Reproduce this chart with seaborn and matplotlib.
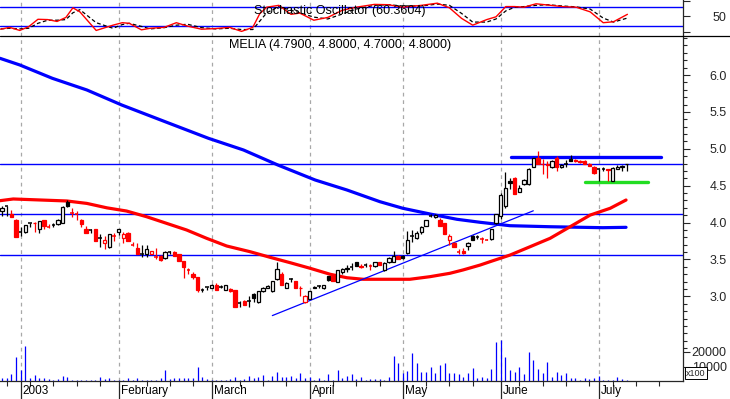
import matplotlib
matplotlib.use("Agg")
import matplotlib.pyplot as plt
import matplotlib.transforms as mtransforms
from matplotlib.patches import Rectangle
from matplotlib.lines import Line2D
import numpy as np
import pandas as pd
import seaborn as sns

sns.set_style("white")
plt.rcParams['font.family'] = ['Liberation Sans', 'DejaVu Sans']

# ---------------- data ----------------
first_index = -4
opens = [4.16, 4.22, 4.12, 4.04, 3.87, 3.87, 4.00, 4.00, 3.92, 4.03,
         3.94, 3.97, 3.98, 4.00, 4.28, 4.13, 4.11, 4.03, 3.92, 3.90,
         3.91, 3.79, 3.73, 3.67, 3.82, 3.87, 3.79, 3.86, 3.70, 3.66,
         3.57, 3.57, 3.58, 3.53, 3.55, 3.52, 3.60, 3.60, 3.57, 3.48,
         3.36, 3.31, 3.26, 3.08, 3.13, 3.12, 3.16, 3.13, 3.09, 3.10,
         3.09, 2.91, 2.94, 2.94, 3.03, 2.92, 3.07, 3.12, 3.07, 3.24,
         3.31, 3.12, 3.23, 3.21, 3.12, 2.93, 2.96, 3.12, 3.14, 3.11,
         3.27, 3.27, 3.20, 3.33, 3.37, 3.40, 3.46, 3.41, 3.42, 3.41,
         3.41, 3.46, 3.36, 3.46, 3.47, 3.55, 3.55, 3.59, 3.82, 3.79,
         3.87, 3.96, 4.09, 4.08, 4.04, 3.99, 3.77, 3.73, 3.60, 3.61,
         3.68, 3.82, 3.81, 3.78, 3.77, 3.78, 3.99, 4.09, 4.22, 4.57,
         4.60, 4.42, 4.52, 4.52, 4.76, 4.87, 4.80, 4.80, 4.76, 4.87,
         4.75, 4.79, 4.86, 4.85, 4.83, 4.84, 4.80, 4.76, 4.72, 4.73,
         4.72, 4.57, 4.73, 4.76, 4.79]
highs = [4.22, 4.22, 4.17, 4.05, 3.94, 3.97, 4.00, 4.01, 4.02, 4.03,
         3.98, 4.00, 4.05, 4.22, 4.30, 4.20, 4.16, 4.05, 3.96, 3.92,
         3.91, 3.84, 3.82, 3.85, 3.86, 3.92, 3.87, 3.87, 3.74, 3.73,
         3.69, 3.69, 3.62, 3.66, 3.56, 3.61, 3.61, 3.61, 3.57, 3.48,
         3.39, 3.33, 3.26, 3.12, 3.13, 3.17, 3.18, 3.15, 3.16, 3.11,
         3.09, 2.94, 2.95, 3.00, 3.05, 3.07, 3.13, 3.15, 3.21, 3.46,
         3.33, 3.19, 3.25, 3.21, 3.14, 3.02, 3.07, 3.14, 3.15, 3.16,
         3.28, 3.28, 3.36, 3.38, 3.42, 3.45, 3.47, 3.44, 3.45, 3.44,
         3.47, 3.47, 3.46, 3.53, 3.62, 3.56, 3.56, 3.88, 3.90, 3.88,
         3.95, 4.04, 4.11, 4.12, 4.06, 3.99, 3.84, 3.74, 3.64, 3.66,
         3.74, 3.83, 3.83, 3.81, 3.78, 3.92, 4.12, 4.40, 4.69, 4.60,
         4.62, 4.51, 4.59, 4.74, 4.88, 4.97, 4.86, 4.84, 4.85, 4.90,
         4.80, 4.85, 4.92, 4.86, 4.85, 4.85, 4.81, 4.77, 4.73, 4.75,
         4.73, 4.75, 4.78, 4.78, 4.80]
lows = [4.09, 4.09, 4.07, 3.81, 3.82, 3.86, 3.94, 3.87, 3.86, 3.91,
        3.93, 3.94, 3.97, 3.99, 4.21, 4.07, 4.03, 3.94, 3.86, 3.86,
        3.75, 3.67, 3.64, 3.66, 3.75, 3.83, 3.72, 3.75, 3.68, 3.57,
        3.54, 3.54, 3.58, 3.51, 3.48, 3.51, 3.58, 3.55, 3.48, 3.25,
        3.31, 3.24, 3.06, 3.06, 3.09, 3.11, 3.09, 3.11, 3.09, 3.06,
        2.86, 2.86, 2.89, 2.85, 2.93, 2.91, 3.06, 3.11, 3.06, 3.22,
        3.15, 3.11, 3.20, 3.12, 3.01, 2.91, 2.96, 3.11, 3.12, 3.10,
        3.21, 3.21, 3.19, 3.31, 3.33, 3.36, 3.41, 3.39, 3.40, 3.36,
        3.40, 3.43, 3.34, 3.45, 3.46, 3.51, 3.50, 3.58, 3.74, 3.78,
        3.85, 3.95, 4.07, 4.06, 3.96, 3.85, 3.70, 3.67, 3.57, 3.57,
        3.63, 3.76, 3.78, 3.72, 3.76, 3.77, 3.98, 4.05, 4.20, 4.45,
        4.39, 4.41, 4.51, 4.51, 4.75, 4.79, 4.66, 4.61, 4.74, 4.70,
        4.74, 4.76, 4.83, 4.82, 4.81, 4.80, 4.77, 4.66, 4.57, 4.70,
        4.57, 4.56, 4.72, 4.70, 4.70]
closes = [4.20, 4.22, 4.07, 3.81, 3.87, 3.97, 4.00, 3.99, 4.02, 3.95,
          3.94, 3.97, 4.03, 4.21, 4.22, 4.13, 4.11, 3.98, 3.86, 3.90,
          3.75, 3.79, 3.77, 3.85, 3.82, 3.91, 3.84, 3.75, 3.70, 3.57,
          3.57, 3.64, 3.61, 3.53, 3.50, 3.60, 3.60, 3.55, 3.48, 3.40,
          3.36, 3.26, 3.08, 3.08, 3.13, 3.16, 3.09, 3.13, 3.16, 3.07,
          2.86, 2.91, 2.89, 2.94, 2.98, 3.07, 3.12, 3.14, 3.21, 3.37,
          3.15, 3.18, 3.23, 3.12, 3.11, 3.00, 3.07, 3.13, 3.14, 3.16,
          3.22, 3.21, 3.36, 3.37, 3.38, 3.40, 3.41, 3.40, 3.42, 3.41,
          3.46, 3.43, 3.45, 3.52, 3.55, 3.51, 3.52, 3.77, 3.82, 3.86,
          3.94, 4.03, 4.09, 4.10, 3.96, 3.85, 3.82, 3.67, 3.60, 3.59,
          3.73, 3.77, 3.81, 3.78, 3.77, 3.91, 4.11, 4.38, 4.47, 4.54,
          4.39, 4.47, 4.58, 4.73, 4.87, 4.80, 4.79, 4.78, 4.84, 4.75,
          4.78, 4.79, 4.84, 4.83, 4.82, 4.80, 4.77, 4.67, 4.72, 4.73,
          4.71, 4.74, 4.76, 4.77, 4.80]
volumes = [1840, 2300, 4830, 16790, 7590, 24380, 2300, 4140, 2300, 2300,
           1150, 500, 1380, 3450, 2990, 500, 500, 690, 690, 400,
           690, 2990, 1380, 1840, 690, 690, 690, 2300, 690, 2300,
           400, 400, 400, 690, 2300, 7590, 1380, 2300, 2300, 2300,
           1840, 2300, 9890, 2990, 1380, 690, 690, 400, 400, 1380,
           2990, 400, 1380, 3450, 2300, 2990, 4140, 690, 3680, 6210,
           2990, 2990, 3680, 1840, 5750, 2300, 2990, 400, 2300, 690,
           4830, 690, 7590, 2300, 3680, 4830, 1380, 2990, 400, 1150,
           1150, 1380, 400, 2990, 17250, 12650, 5290, 7130, 19550, 12190,
           6440, 6440, 9890, 5750, 11270, 12650, 5750, 5290, 4600, 2990,
           5750, 9200, 1840, 2990, 2300, 8510, 27140, 28290, 16790, 7590,
           5980, 9890, 5060, 20010, 14490, 8510, 5750, 13110, 2990, 6440,
           3910, 5290, 2300, 1840, 400, 1840, 1380, 2300, 3450, 690,
           400, 400, 2990, 1150, 690]

ma_long_x = [-4.44, -0.2, 6.8, 14.2, 21.7, 31.0, 40.3, 47.8, 55.2, 63.2, 70.0,
             77.1, 82.0, 87.8, 93.6, 98.6, 105.0, 113.6, 124.9, 129.9]
ma_long_y = [6.226, 6.136, 5.955, 5.797, 5.593, 5.367, 5.142, 4.984, 4.78, 4.577,
             4.442, 4.283, 4.194, 4.117, 4.045, 4.004, 3.958, 3.944, 3.931, 3.936]
ma_short_x = [-4.44, -1.6, 9.9, 14.2, 18.5, 22.7, 27.0, 31.3, 35.6, 39.9, 44.2,
              49.2, 53.5, 57.8, 62.1, 66.4, 70.0, 73.5, 83.5, 87.8, 92.1, 94.9,
              98.6, 100.7, 105.0, 109.3, 113.6, 117.9, 122.2, 126.5, 129.9]
ma_short_y = [4.297, 4.32, 4.293, 4.26, 4.20, 4.157, 4.08, 3.99, 3.90, 3.787, 3.683,
              3.606, 3.530, 3.457, 3.381, 3.30, 3.253, 3.232, 3.232, 3.267, 3.313,
              3.358, 3.425, 3.470, 3.560, 3.673, 3.787, 3.944, 4.102, 4.194, 4.306]

stoch_x = [-4.3, -2.4, -0.2, 1.7, 3.7, 5.8, 7.8, 9.7, 11.2, 12.7, 16.2, 19.8, 21.8,
           23.3, 25.9, 27.8, 30.8, 33.4, 35.8, 38.8, 41.8, 44.8, 47.4, 49.8, 51.3,
           52.8, 55.4, 58, 59.9, 62.9, 65.9, 69, 72, 75.9, 78.9, 81.9, 86, 89.4, 92,
           94.6, 97, 100, 102, 104.1, 106, 108, 110.6, 113.1, 116.2, 119.2, 122.2,
           125, 127.2, 130.2]
stoch_k = [9, 15, 5, 17, 41, 40, 34, 47, 78, 65, 5, 22, 30, 28, 7, 12, 15, 30, 19, 9,
           11, 15, 2, 15, 59, 80, 86, 57, 61, 38, 47, 70, 80, 89, 88, 80, 86, 93, 78,
           44, 22, 40, 49, 82, 82, 80, 91, 87, 82, 80, 65, 30, 33, 57]
stoch_d = [10, 12, 10, 12, 28, 38, 38, 40, 62, 72, 30, 12, 24, 28, 18, 10, 14, 22, 25,
           14, 10, 12, 8, 8, 35, 62, 82, 70, 62, 48, 42, 58, 74, 86, 88, 84, 84, 90, 86,
           60, 32, 32, 42, 68, 80, 82, 86, 88, 84, 81, 74, 45, 32, 45]
stoch_levels = [80, 20]

price_levels = [4.80, 4.12, 3.56]
trend_x = [54.0, 110.0]
trend_y = [2.74, 4.16]
resist_x = [105.2, 137.3]
resist_y = [4.89, 4.89]
support_x = [121.2, 134.7]
support_y = [4.55, 4.55]

month_pos = [0, 21, 41, 62, 82, 103, 124]
month_labels = ["2003", "February", "March", "April", "May", "June", "July"]
price_ticks = [3.0, 3.5, 4.0, 4.5, 5.0, 5.5, 6.0]
volume_ticks = [10000, 20000]

stoch_title = "Stochastic Oscillator (60.3604)"
price_title = "MELIA (4.7900, 4.8000, 4.7000, 4.8000)"

# ---------------- layout ----------------
W, H = 730, 399
fig = plt.figure(figsize=(W / 100, H / 100), dpi=100)
fig.patch.set_facecolor("white")


def px_rect(x0, y0, x1, y1):
    return [x0 / W, 1 - y1 / H, (x1 - x0) / W, (y1 - y0) / H]


AX_R = 683
ax_st = fig.add_axes(px_rect(0, 0, AX_R, 36))
ax_v = fig.add_axes(px_rect(0, 36, AX_R, 381))
ax = fig.add_axes(px_rect(0, 36, AX_R, 381), sharex=ax_v)
ax.patch.set_alpha(0)

PX = 4.66
x_left = -20.7 / PX
x_right = (AX_R - 20.7) / PX
for a in (ax_st, ax_v, ax):
    a.set_xlim(x_left, x_right)
    for s in a.spines.values():
        s.set_visible(False)

BLUE = "#0000ff"
RED = "#ff0000"
GRID = "#a8a8a8"
FS = 9

# ---------------- stochastic panel ----------------
ax_st.set_ylim(-12.9, 103.2)
for m in month_pos:
    ax_st.axvline(m, color=GRID, lw=0.9, ls=(0, (3, 3)), zorder=0)
for lv in stoch_levels:
    ax_st.axhline(lv, color=BLUE, lw=1.0, zorder=1)
st_df = pd.DataFrame({"x": stoch_x, "k": stoch_k, "d": stoch_d})
sns.lineplot(data=st_df, x="x", y="d", ax=ax_st, color="black", lw=0.9,
             linestyle=(0, (3, 2)), estimator=None, sort=False, legend=False, zorder=2)
sns.lineplot(data=st_df, x="x", y="k", ax=ax_st, color=RED, lw=1.0,
             estimator=None, sort=False, legend=False, zorder=3)
ax_st.text(340 / AX_R, 1 - 11 / 36, stoch_title, transform=ax_st.transAxes,
           ha="center", va="center", fontsize=FS, color="black", zorder=4)
ax_st.spines["right"].set_visible(True)
ax_st.spines["right"].set_linewidth(0.9)
ax_st.yaxis.tick_right()
ax_st.set_yticks([0, 50, 100])
ax_st.set_yticklabels(["", "50", ""])
ax_st.tick_params(axis="y", which="major", direction="out", length=5, width=0.8,
                  pad=26.5, labelsize=FS, right=True, left=False)
for lab in ax_st.get_yticklabels():
    lab.set_horizontalalignment("right")
ax_st.tick_params(axis="x", bottom=False, labelbottom=False)
ax_st.set_xlabel("")
ax_st.set_ylabel("")

# ---------------- volume (overlay, bottom of price panel) ----------------
VPX = 14.5 / 10000.0
ax_v.set_ylim(0, 345 / VPX)
days = np.arange(first_index, first_index + len(closes))
ax_v.vlines(days, 0, volumes, color=BLUE, lw=0.9, zorder=2)
for m in month_pos:
    ax_v.axvline(m, color=GRID, lw=0.9, ls=(0, (3, 3)), zorder=0)
ax_v.spines["bottom"].set_visible(True)
ax_v.spines["bottom"].set_linewidth(0.9)
ax_v.yaxis.tick_right()
ax_v.set_yticks(volume_ticks)
ax_v.set_yticklabels([str(v) for v in volume_ticks])
ax_v.tick_params(axis="y", which="major", direction="out", length=5, width=0.8,
                 pad=26.5, labelsize=FS, right=True, left=False)
for lab in ax_v.get_yticklabels():
    lab.set_horizontalalignment("right")
ax_v.set_xticks(month_pos)
ax_v.set_xticklabels([""] * len(month_pos))
minor_x = [v for v in np.arange(-3, 142, 5) if min(abs(v - m) for m in month_pos) > 1.5]
ax_v.set_xticks(minor_x, minor=True)
ax_v.tick_params(axis="x", which="major", direction="out", length=13, width=0.9,
                 bottom=True)
ax_v.tick_params(axis="x", which="minor", direction="out", length=3.5, width=0.8,
                 bottom=True)
trans = mtransforms.blended_transform_factory(ax_v.transData, ax_v.transAxes)
for m, lab in zip(month_pos, month_labels):
    ax_v.text(m + 0.45, -10 / 345, lab, transform=trans, ha="left", va="center",
              fontsize=8.5, color="black", clip_on=False)
ax_v.set_xlabel("")
ax_v.set_ylabel("")

# ---------------- price panel ----------------
ax.set_ylim(6 - 306 / 73.8, 6 + 39 / 73.8)
for lv in price_levels:
    ax.axhline(lv, color=BLUE, lw=1.0, zorder=1)

ma_l = pd.DataFrame({"x": ma_long_x, "y": ma_long_y})
ma_s = pd.DataFrame({"x": ma_short_x, "y": ma_short_y})
sns.lineplot(data=ma_l, x="x", y="y", ax=ax, color=BLUE, lw=2.3,
             estimator=None, sort=False, legend=False, zorder=2)
sns.lineplot(data=ma_s, x="x", y="y", ax=ax, color=RED, lw=2.3,
             estimator=None, sort=False, legend=False, zorder=2)
sns.lineplot(x=trend_x, y=trend_y, ax=ax, color=BLUE, lw=0.9,
             estimator=None, sort=False, legend=False, zorder=2)
sns.lineplot(x=resist_x, y=resist_y, ax=ax, color=BLUE, lw=2.4,
             estimator=None, sort=False, legend=False, zorder=2)
sns.lineplot(x=support_x, y=support_y, ax=ax, color="#22dd22", lw=2.4,
             estimator=None, sort=False, legend=False, zorder=2)

bw = 0.72
prev = closes[0]
for d, o, h, l, c in zip(days, opens, highs, lows, closes):
    col = RED if c < prev else "black"
    ax.vlines(d, l, h, color=col, lw=0.9, zorder=4)
    if abs(c - o) < 0.004:
        ax.hlines(c, d - bw / 2, d + bw / 2, color=col, lw=1.1, zorder=5)
    else:
        fc = "white" if c > o else col
        ax.add_patch(Rectangle((d - bw / 2, min(o, c)), bw, abs(c - o),
                               facecolor=fc, edgecolor=col, lw=0.9, zorder=5))
    prev = c

ax.text(340 / AX_R, 1 - 9 / 345, price_title, transform=ax.transAxes,
        ha="center", va="center", fontsize=FS, color="black", zorder=6)

ax.spines["right"].set_visible(True)
ax.spines["right"].set_linewidth(0.9)
ax.yaxis.tick_right()
ax.set_yticks(price_ticks)
ax.set_yticklabels([f"{t:.1f}" for t in price_ticks])
ax.set_yticks([round(v, 1) for v in np.arange(2.3, 6.55, 0.1)], minor=True)
ax.tick_params(axis="y", which="major", direction="out", length=5, width=0.8,
               pad=26.5, labelsize=FS, right=True, left=False)
ax.tick_params(axis="y", which="minor", direction="out", length=3, width=0.8,
               right=True, left=False)
for lab in ax.get_yticklabels():
    lab.set_horizontalalignment("right")
ax.tick_params(axis="x", which="both", bottom=False, labelbottom=False)
ax.set_xlabel("")
ax.set_ylabel("")

# separator between panels
fig.add_artist(Line2D([0, 1], [1 - 36 / H, 1 - 36 / H], color="black", lw=0.9))
# x100 box (drawn over the lower volume label, as in the original)
fig.text(686 / W, 1 - 373 / H, "x100", fontsize=6.5, ha="left", va="center",
         bbox=dict(boxstyle="square,pad=0.15", fc="white", ec="black", lw=0.7))

fig.savefig("out.png", dpi=100, facecolor="white")
